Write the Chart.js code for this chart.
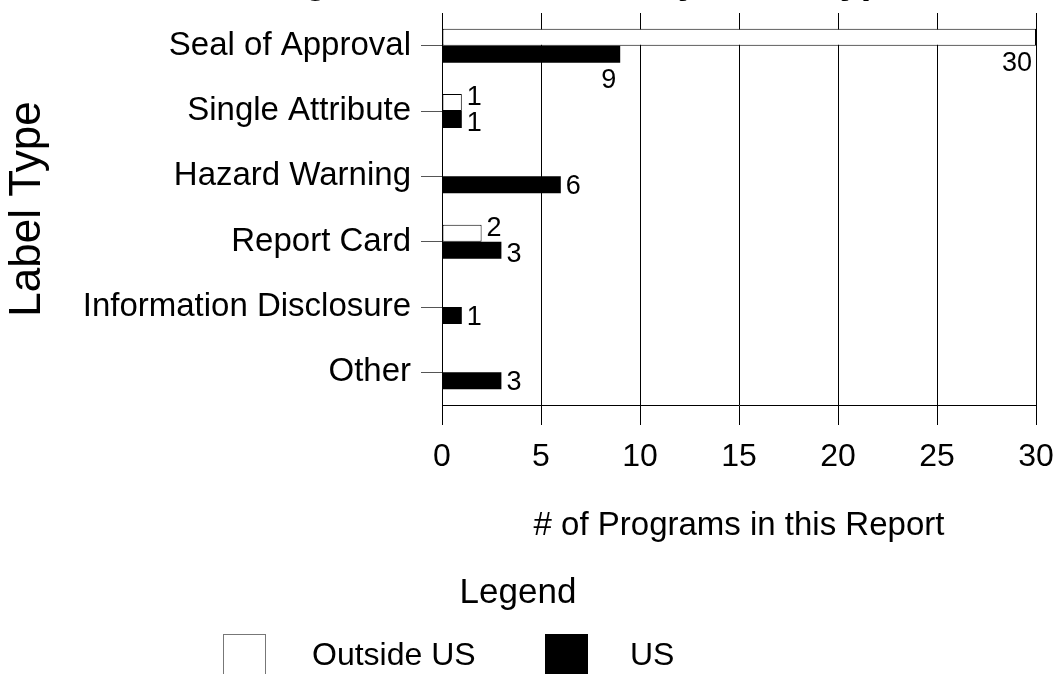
<!DOCTYPE html>
<html><head><meta charset="utf-8">
<script src="https://cdn.jsdelivr.net/npm/chart.js@4.4.1/dist/chart.umd.min.js"></script>
<style>
html,body{margin:0;padding:0;background:#fff;overflow:hidden;width:1058px;height:674px;position:relative;}
#wrap{position:absolute;left:0;top:-40px;width:1058px;height:714px;}
</style></head><body>
<div id="wrap"><canvas id="c"></canvas></div>
<script>
const chartTitle = 'Label Programs Outside US, by Label Type';
const categories = ['Seal of Approval','Single Attribute','Hazard Warning','Report Card','Information Disclosure','Other'];
const seriesNames = ['Outside US','US'];
const outsideUS = [30, 1, 0, 2, 0, 0];
const us = [9, 1, 6, 3, 1, 3];
const xTicks = [0, 5, 10, 15, 20, 25, 30];
const xTitle = '# of Programs in this Report';
const yTitle = 'Label Type';
const legendTitle = 'Legend';

const FONT = "'Liberation Sans', Arial, Helvetica, sans-serif";
Chart.defaults.font.family = FONT;
Chart.defaults.color = '#000';

const valueLabels = {
  id: 'valueLabels',
  afterDatasetsDraw(chart) {
    const ctx = chart.ctx, xs = chart.scales.x;
    ctx.save();
    ctx.font = '27px ' + FONT;
    ctx.fillStyle = '#000';
    chart.data.labels.forEach((_, i) => {
      const vals = chart.data.datasets.map(d => d.data[i]);
      const below = Math.max(...vals) >= xs.max;
      const both = vals.filter(v => v > 0).length > 1;
      chart.data.datasets.forEach((d, di) => {
        const v = d.data[i];
        if (!v) return;
        const el = chart.getDatasetMeta(di).data[i];
        if (below) {
          ctx.textAlign = 'right'; ctx.textBaseline = 'top';
          ctx.fillText(String(v), el.x - 4, el.y + el.height / 2 + 4);
        } else {
          ctx.textAlign = 'left'; ctx.textBaseline = 'middle';
          const dy = both ? (di === 0 ? -5 : 4) : 2;
          ctx.fillText(String(v), el.x + 5, el.y + dy);
        }
      });
    });
    ctx.restore();
  }
};

const customLegend = {
  id: 'customLegend',
  afterDraw(chart) {
    const ctx = chart.ctx, H = chart.height;
    const py = y => H - (674 - y);
    ctx.save();
    ctx.fillStyle = '#000';
    ctx.textBaseline = 'middle';
    ctx.textAlign = 'center';
    ctx.font = '35px ' + FONT;
    ctx.fillText(legendTitle, 518, py(593));
    const boxes = [{x: 223, w: 43, tx: 312}, {x: 545, w: 43, tx: 630}];
    ctx.font = '32px ' + FONT;
    ctx.textAlign = 'left';
    chart.data.datasets.forEach((d, i) => {
      const b = boxes[i];
      ctx.fillStyle = d.backgroundColor;
      ctx.fillRect(b.x, py(634), b.w, 60);
      if (d.backgroundColor === '#ffffff') {
        ctx.strokeStyle = '#777';
        ctx.lineWidth = 1;
        ctx.strokeRect(b.x + 0.5, py(634) + 0.5, b.w - 1, 60);
      }
      ctx.fillStyle = '#000';
      ctx.fillText(d.label, b.tx, py(656));
    });
    ctx.restore();
  }
};

new Chart(document.getElementById('c'), {
  type: 'bar',
  data: {
    labels: categories,
    datasets: [
      {label: seriesNames[0], data: outsideUS, backgroundColor: '#ffffff', borderColor: '#000', borderWidth: 1, borderSkipped: false},
      {label: seriesNames[1], data: us, backgroundColor: '#000000', borderColor: '#000', borderWidth: 0}
    ]
  },
  options: {
    indexAxis: 'y',
    responsive: true,
    maintainAspectRatio: false,
    animation: false,
    categoryPercentage: 0.52,
    barPercentage: 1,
    layout: {padding: {left: 0, right: 22, top: 0, bottom: 128}},
    plugins: {
      legend: {display: false},
      tooltip: {enabled: false},
      title: {display: true, text: chartTitle, color: '#000', font: {size: 38, weight: 'bold'}, padding: {top: 0, bottom: 7.4}}
    },
    scales: {
      x: {
        min: 0, max: 30, position: 'bottom',
        afterBuildTicks: s => { s.ticks = xTicks.map(v => ({value: v})); },
        grid: {color: '#000', lineWidth: 1, tickLength: 20, drawTicks: true},
        border: {display: true, color: '#000'},
        ticks: {font: {size: 32}, padding: 13, color: '#000', maxRotation: 0, autoSkip: false},
        title: {display: true, text: xTitle, color: '#000', font: {size: 33}, padding: {top: 0, bottom: 0}},
        afterFit: s => { s.height = 141; s.paddingRight = 0; s.paddingLeft = 0; }
      },
      y: {
        grid: {offset: false, drawOnChartArea: false, tickLength: 21, color: '#555'},
        border: {display: true, color: '#000'},
        ticks: {font: {size: 33}, padding: 10, color: '#000', autoSkip: false},
        title: {display: true, text: yTitle, color: '#000', font: {size: 44}, padding: {top: 1.6, bottom: 0}},
        afterFit: s => { s.width = 442; s.paddingTop = 0; s.paddingBottom = 0; }
      }
    }
  },
  plugins: [valueLabels, customLegend]
});
</script>
</body></html>
